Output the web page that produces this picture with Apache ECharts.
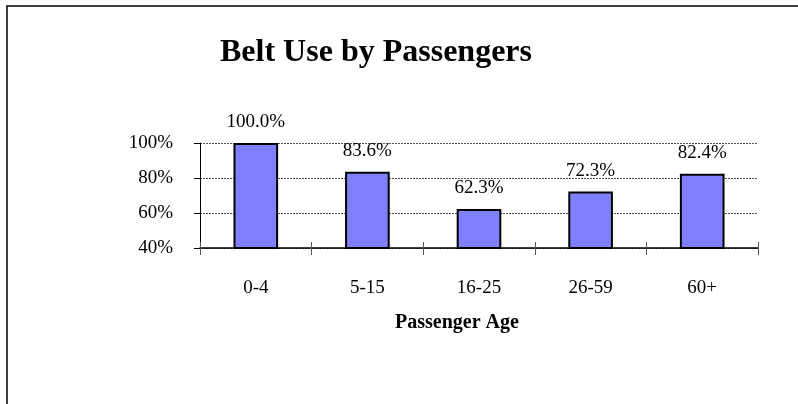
<!DOCTYPE html>
<html>
<head>
<meta charset="utf-8">
<script src="https://cdn.jsdelivr.net/npm/echarts@6/dist/echarts.min.js"></script>
<style>
html,body{margin:0;padding:0;background:#fff;}
#c{width:798px;height:404px;}
</style>
</head>
<body>
<div id="c"></div>
<script>
var categories = ['0-4', '5-15', '16-25', '26-59', '60+'];
var beltUse = [100.0, 83.6, 62.3, 72.3, 82.4];
var yTicks = [40, 60, 80, 100];

var chart = echarts.init(document.getElementById('c'));
var font = '"Liberation Serif", "Times New Roman", serif';
chart.setOption({
  animation: false,
  backgroundColor: '#fff',
  graphic: [{
    type: 'rect',
    shape: {x: 7, y: 6, width: 1000, height: 600},
    style: {fill: 'none', stroke: '#000', lineWidth: 1.5},
    silent: true
  }],
  title: {
    text: 'Belt Use by Passengers',
    left: 371,
    textAlign: 'center',
    top: 32,
    textStyle: {fontFamily: font, fontWeight: 'bold', fontSize: 32, color: '#000'}
  },
  grid: {left: 200, right: 40, top: 143, bottom: 156},
  xAxis: [{
    type: 'category',
    data: categories,
    name: 'Passenger Age',
    nameLocation: 'middle',
    nameGap: 65,
    nameTextStyle: {fontFamily: font, fontWeight: 'bold', fontSize: 20, color: '#000', padding: [0, 44, 0, 0]},
    axisLine: {lineStyle: {color: '#000', width: 1.5}},
    axisTick: {show: true, length: 7, lineStyle: {color: '#555'}},
    axisLabel: {fontFamily: font, fontSize: 19, color: '#000', margin: 31}
  }, {
    type: 'category',
    data: categories,
    position: 'bottom',
    axisLine: {show: false},
    axisTick: {show: true, inside: true, length: 6, lineStyle: {color: '#555'}},
    axisLabel: {show: false},
    splitLine: {show: false}
  }],
  yAxis: {
    type: 'value',
    min: yTicks[0],
    max: yTicks[yTicks.length - 1],
    interval: 20,
    axisLine: {show: true, lineStyle: {color: '#000', width: 1}},
    axisTick: {show: true, length: 6, lineStyle: {color: '#000'}},
    axisLabel: {fontFamily: font, fontSize: 19, color: '#000', margin: 27, formatter: '{value}%'},
    splitLine: {show: true, lineStyle: {color: '#555', type: [2, 1], width: 1}}
  },
  series: [{
    type: 'bar',
    data: beltUse,
    barWidth: '40%',
    itemStyle: {color: '#8080FF', borderColor: '#000', borderWidth: 2},
    label: {
      show: true,
      position: 'top',
      distance: 11,
      fontFamily: font,
      fontSize: 19,
      color: '#000',
      formatter: function (p) { return p.value.toFixed(1) + '%'; }
    }
  }]
});
</script>
</body>
</html>
